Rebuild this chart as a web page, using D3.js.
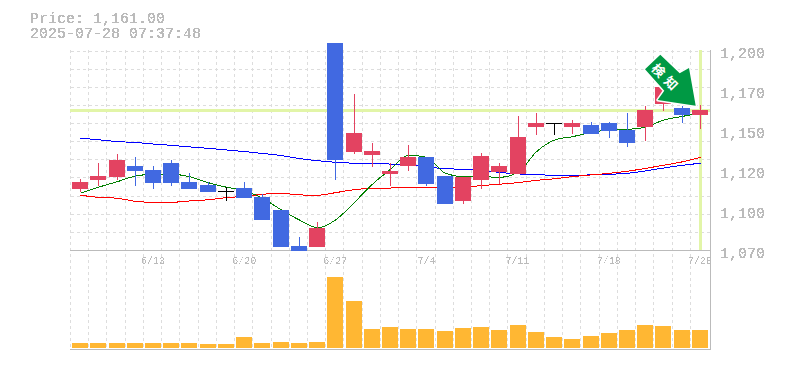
<!DOCTYPE html>
<html>
<head>
<meta charset="utf-8">
<script src="https://cdn.jsdelivr.net/npm/d3@7/dist/d3.min.js"></script>
<style>
html,body{margin:0;padding:0;background:#fff;overflow:hidden}
svg{display:block}
text{font-family:"Liberation Mono",monospace}
</style>
</head>
<body>
<svg id="c" width="785" height="370"></svg>
<script>
const headerLines = ["Price: 1,161.00", "2025-07-28 07:37:48"];
const signalLabel = "検知";
const dates = ["6/9","6/10","6/11","6/12","6/13","6/16","6/17","6/18","6/19","6/20","6/23","6/24","6/25","6/26","6/27","6/30","7/1","7/2","7/3","7/4","7/7","7/8","7/9","7/10","7/11","7/14","7/15","7/16","7/17","7/18","7/22","7/23","7/24","7/25","7/28"];
const dateTicks = ["6/13","6/20","6/27","7/4","7/11","7/18","7/28"];
const priceTicks = [1200,1175,1150,1125,1100,1075];
const priceTickLabels = ["1,200","1,170","1,150","1,120","1,100","1,070"];
const opens  = [1119.4,1123.1,1133.1,1126.3,1118.8,1118.8,1115.0,1113.1,1113.8,1109.4,1095.6,1078.8,1076.3,1090.6,1133.1,1150.0,1138.8,1126.3,1135.0,1118.1,1105.6,1122.5,1135.6,1129.4,1147.5,1156.3,1156.3,1156.3,1149.4,1151.3,1143.8,1164.4,1178.8,1161.3,1164.4];
const closes = [1115.0,1120.6,1122.5,1129.4,1126.9,1131.3,1119.4,1117.5,1113.8,1115.6,1110.0,1101.9,1079.4,1078.8,1206.3,1138.1,1136.3,1124.4,1129.4,1135.0,1123.1,1107.5,1120.6,1125.6,1124.4,1153.8,1156.3,1153.8,1155.0,1156.3,1151.9,1153.8,1168.1,1165.6,1161.3];
const highs  = [1121.3,1131.3,1136.9,1135.0,1129.4,1133.1,1125.0,1119.4,1116.3,1119.4,1111.9,1101.9,1085.0,1094.4,1206.3,1174.4,1143.8,1131.3,1142.5,1135.0,1123.1,1122.5,1137.5,1131.3,1160.6,1162.5,1156.3,1158.1,1156.9,1156.9,1162.5,1166.9,1178.8,1166.9,1167.5];
const lows   = [1113.1,1116.9,1120.6,1116.9,1115.0,1116.9,1115.0,1113.1,1107.5,1109.4,1095.6,1078.8,1076.3,1078.8,1120.6,1136.9,1128.8,1116.9,1126.3,1116.9,1105.6,1105.6,1115.0,1118.1,1124.4,1148.8,1148.8,1149.4,1149.4,1146.9,1141.3,1145.0,1163.8,1156.3,1152.5];
const maBlue = [1146.7,1145.8,1144.6,1144.1,1143.1,1142.3,1141.3,1140.4,1139.4,1138.4,1137.2,1135.9,1134.0,1132.7,1131.7,1131.1,1130.8,1130.6,1130.0,1128.8,1127.7,1127.3,1126.4,1125.4,1124.4,1124.2,1123.3,1123.3,1123.9,1124.2,1124.8,1126.3,1128.1,1129.8,1131.1];
const maRed  = [1111.1,1109.8,1109.2,1107.3,1106.7,1106.7,1107.5,1108.3,1109.6,1110.4,1111.7,1112.3,1111.3,1111.1,1112.7,1114.6,1115.4,1115.6,1116.1,1116.1,1116.1,1116.3,1117.1,1118.0,1119.0,1120.4,1121.4,1122.7,1123.8,1124.8,1126.1,1127.9,1129.8,1132.0,1134.8];
const maGreen= [1112.3,1116.1,1119.6,1123.1,1124.2,1124.2,1122.7,1118.9,1116.1,1113.9,1109.2,1101.9,1095.6,1090.8,1095.6,1106.7,1118.0,1127.3,1136.1,1134.8,1124.8,1122.7,1122.7,1122.3,1125.6,1138.3,1145.6,1147.7,1150.4,1151.9,1152.3,1153.6,1158.1,1160.4,1162.3];
const volumes = [5,5,5,5,5,5,5,4,4,11,5,6,5,6,71,47,19,21,19,19,17,20,21,18,23,16,11,9,12,15,18,23,22,18,18];
const priceLevel = 1164;
const arrowShape = [[645,69.3],[660.3,54.7],[679.7,73.3],[689,68],[695.7,105.7],[657.7,100],[664.3,90.7]];

const svg = d3.select("#c");
const defs = svg.append("defs");
const f = defs.append("filter").attr("id","px").attr("x","-5%").attr("y","-20%").attr("width","110%").attr("height","140%");
f.append("feComponentTransfer").append("feFuncA").attr("type","discrete").attr("tableValues","0 1 1");
const f2 = defs.append("filter").attr("id","pxs").attr("x","-5%").attr("y","-20%").attr("width","110%").attr("height","140%");
f2.append("feComponentTransfer").append("feFuncA").attr("type","discrete").attr("tableValues","0 0 1 1");

const x = d3.scaleBand().domain(d3.range(dates.length)).range([71,709]);
const cx = i => Math.round(x(i) + x.step()/2);
const y = d3.scaleLinear().domain([1200,1075]).range([53,253]);
const vy = d3.scaleLinear().domain([0,98]).range([348,250]);
const gridY = d3.scaleLinear().domain([0,11]).range([50.5,250]);
const barW = 16;
const RED = "#e34361", BLUE = "#4169e1", GRID = "#ddd", AXIS = "#bbb";

// grid
const grid = svg.append("g").attr("stroke",GRID).attr("stroke-dasharray","3,3").attr("shape-rendering","crispEdges");
grid.selectAll("line.h").data(d3.range(0,11)).join("line").attr("class","h")
  .attr("x1",70.5).attr("x2",710).attr("y1",d=>Math.round(gridY(d))+.5).attr("y2",d=>Math.round(gridY(d))+.5);
grid.selectAll("line.v").data(d3.range(dates.length)).join("line").attr("class","v")
  .attr("x1",d=>Math.round(x(d))-.5).attr("x2",d=>Math.round(x(d))-.5).attr("y1",50).attr("y2",350);

// current-price highlight bands
svg.append("rect").attr("x",70).attr("width",640).attr("y",Math.round(y(priceLevel))-2).attr("height",3).attr("fill","#e2f5a8");
svg.append("rect").attr("x",cx(dates.length-1)-1).attr("width",3).attr("y",50).attr("height",200).attr("fill","#e2f5a8");

// frame
const frame = svg.append("g").attr("stroke",AXIS).attr("shape-rendering","crispEdges");
frame.append("line").attr("x1",70).attr("x2",711).attr("y1",250.5).attr("y2",250.5);
frame.append("line").attr("x1",70).attr("x2",711).attr("y1",349.5).attr("y2",349.5);
frame.append("line").attr("x1",710.5).attr("x2",710.5).attr("y1",50).attr("y2",350);

// volume
svg.append("g").selectAll("rect").data(volumes).join("rect")
  .attr("x",(d,i)=>cx(i)-barW/2).attr("width",barW)
  .attr("y",d=>Math.round(vy(d))).attr("height",d=>348-Math.round(vy(d))).attr("fill","#ffb733");

// moving averages
const line = d3.line().x((d,i)=>cx(i)+.5).y(d=>y(d)).curve(d3.curveMonotoneX);
[[maBlue,"#0000ff"],[maRed,"#ff0000"],[maGreen,"#008000"]].forEach(([s,c])=>{
  svg.append("path").attr("d",line(s)).attr("fill","none").attr("stroke",c).attr("stroke-width",1).attr("shape-rendering","crispEdges");
});

// candles
const colorOf = i => closes[i]===opens[i] ? "#000" : closes[i]<opens[i] ? RED : BLUE;
const candles = svg.append("g").attr("shape-rendering","crispEdges").selectAll("g").data(dates).join("g");
candles.append("rect").attr("x",(d,i)=>cx(i)).attr("width",1)
  .attr("y",(d,i)=>Math.round(y(highs[i]))).attr("height",(d,i)=>Math.round(y(lows[i]))-Math.round(y(highs[i])))
  .attr("fill",(d,i)=>colorOf(i));
candles.append("rect").attr("x",(d,i)=>cx(i)-barW/2).attr("width",barW)
  .attr("y",(d,i)=>Math.round(y(Math.max(opens[i],closes[i]))))
  .attr("height",(d,i)=>Math.max(1,Math.round(y(Math.min(opens[i],closes[i])))-Math.round(y(Math.max(opens[i],closes[i])))))
  .attr("fill",(d,i)=>colorOf(i));

// signal arrow
svg.append("polygon").attr("points",arrowShape.map(p=>p.join(",")).join(" ")).attr("fill","#009944")
  .attr("stroke","#fff").attr("stroke-width",3).attr("paint-order","stroke").attr("stroke-linejoin","round");
svg.append("text").attr("transform","translate(667,78) rotate(45)").attr("text-anchor","middle").attr("dominant-baseline","central")
  .attr("font-size",13).attr("font-weight","bold").attr("letter-spacing",5).attr("fill","#fff").style("font-family","'Noto Sans CJK JP'").text(signalLabel);

// axes
const yAxis = d3.axisRight(y).tickValues(priceTicks).tickSize(0).tickPadding(0).tickFormat((d,i)=>priceTickLabels[i]);
const ya = svg.append("g").attr("transform","translate(720,0)").attr("filter","url(#px)").call(yAxis);
ya.select(".domain").remove();
ya.selectAll("text").attr("font-size",15).attr("fill",AXIS).attr("x",0).attr("dy","0.32em").style("font-family","'Liberation Mono'");

const tickIdx = dateTicks.map(t=>dates.indexOf(t));
const xAxis = d3.axisBottom(x).tickValues(tickIdx).tickSize(0).tickPadding(0).tickFormat(i=>dates[i]);
const xa = svg.append("g").attr("transform","translate(0,257)").attr("filter","url(#pxs)").call(xAxis);
xa.select(".domain").remove();
xa.selectAll("text").attr("font-size",10).attr("fill",AXIS).attr("y",0).attr("dy","0.71em").style("font-family","'Liberation Mono'");

// header
svg.append("g").attr("filter","url(#px)").selectAll("text").data(headerLines).join("text")
  .attr("x",30).attr("y",(d,i)=>23+i*15).attr("font-size",15).attr("fill",AXIS).text(d=>d);
</script>
</body>
</html>
